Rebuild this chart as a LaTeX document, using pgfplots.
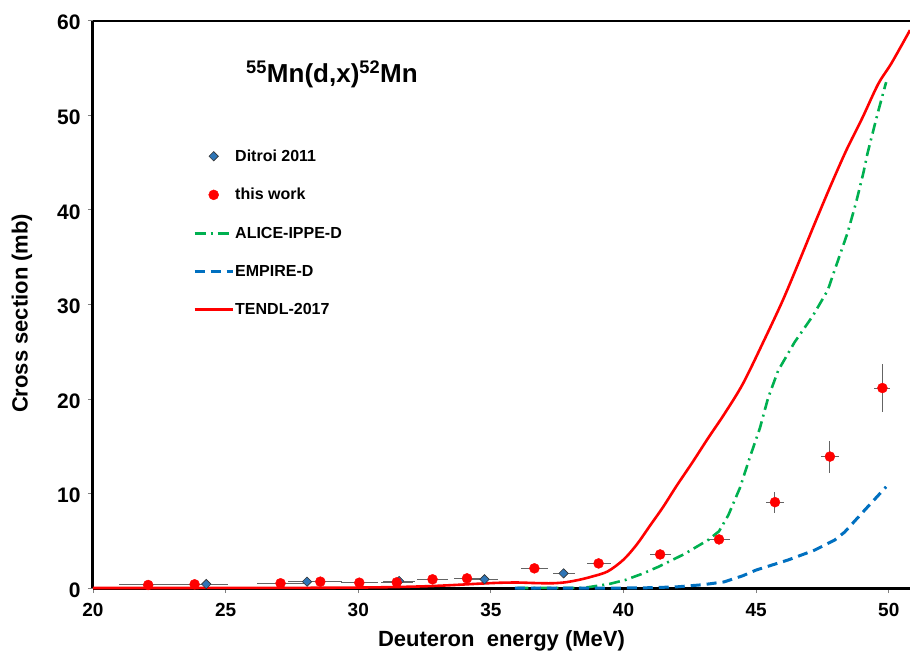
\documentclass[border=0pt]{standalone}
\usepackage{fontspec}
\setmainfont{Liberation Sans}
\usepackage{pgfplots}
\pgfplotsset{compat=1.18}
\definecolor{tendlred}{RGB}{255,0,0}
\definecolor{alicegreen}{RGB}{0,176,80}
\definecolor{empireblue}{RGB}{0,112,192}
\definecolor{diamondblue}{RGB}{46,117,182}
\definecolor{errgray}{RGB}{100,100,100}
\pgfplotsset{
    lineleg/.style={legend image code/.code={\draw[##1] (0pt,0pt) -- (38pt,0pt);}},
    markleg/.style={legend image code/.code={\draw[mark repeat=2,mark phase=2,##1] plot coordinates {(0pt,0pt) (19pt,0pt) (38pt,0pt)};}},
}

\begin{document}
\begin{tikzpicture}
\begin{axis}[
    name=ax,
    scale only axis,
    width=817pt, height=567.3pt,
    xmin=20, xmax=50.8, ymin=0, ymax=60,
    xtick={20,25,...,50}, ytick={0,10,...,60},
    axis lines*=left,
    axis line style={-, line width=3pt, black},
    tick align=outside,
    major tick length=5pt,
    tick style={line width=0.8pt, gray},
    clip=false,
    /pgf/number format/assume math mode=true,
    xticklabel style={font=\fontsize{19}{21}\selectfont\bfseries, yshift=-7pt},
    yticklabel style={font=\fontsize{21}{23}\selectfont\bfseries, xshift=-4pt, yshift=-2pt},
    xlabel={Deuteron\ \ energy (MeV)},
    ylabel={Cross section (mb)},
    every axis x label/.style={at={([yshift=-53pt]axis description cs:0.5,0)}, anchor=center},
    every axis y label/.style={at={([xshift=-71pt,yshift=-9pt]axis description cs:0,0.5)}, rotate=90, anchor=center},
    label style={font=\fontsize{22}{24}\selectfont\bfseries},
    legend style={at={(0.1224,0.7747)}, anchor=north west, draw=none, fill=none,
        font=\fontsize{16}{18}\selectfont\bfseries, row sep=23.5pt, inner sep=0pt,
        nodes={inner sep=1pt, anchor=west}},
    legend cell align=left,
]
% Ditroi 2011
\addplot[only marks, mark=square*, mark size=3.3pt, markleg,
    mark options={rotate=45, fill=diamondblue, draw=black!80, line width=0.6pt},
    error bars/.cd, x dir=both, x explicit,
    error bar style={errgray, line width=1pt}, error mark=|,
    error mark options={errgray, line width=1pt, mark size=3pt, rotate=90}]
    table[x=x, y=y, x error=ex] {
x y ex
24.27 0.42 0.7
28.07 0.67 0.6
31.54 0.74 0.5
34.76 0.92 0.4
37.74 1.55 0.3
};
\addlegendentry{Ditroi 2011}
% this work
\addplot[only marks, mark=*, mark size=5pt, color=tendlred, markleg,
    error bars/.cd, x dir=both, x explicit, y dir=both, y explicit,
    error bar style={errgray, line width=1pt}, error mark=none]
    table[x=x, y=y, x error=ex, y error=ey] {
x y ex ey
22.08 0.32 1.1 0.05
23.83 0.39 0.8 0.05
27.07 0.50 0.9 0.05
28.57 0.67 0.8 0.05
30.04 0.56 0.7 0.05
31.45 0.60 0.6 0.05
32.80 0.92 0.6 0.08
34.10 1.02 0.5 0.08
36.64 2.08 0.5 0.15
39.06 2.60 0.45 0.2
41.38 3.55 0.4 0.25
43.60 5.14 0.4 0.35
45.71 9.08 0.35 1.1
47.78 13.90 0.35 1.7
49.76 21.15 0.3 2.5
};
\addlegendentry{this work}
% ALICE-IPPE-D
\addplot[alicegreen, line width=2.6pt, dash pattern=on 11pt off 5pt on 2pt off 5pt, lineleg]
    coordinates {
(36.0,0) (38.5,0.02) (38.8,0.14) (39.5,0.45) (40.06,0.84) (40.7,1.5) (41.32,2.25)
(42.3,3.6) (43.2,5.1) (43.6,6.0) (43.95,7.7) (44.39,10.6) (44.76,13.8) (45.14,16.9)
(45.45,20.1) (45.83,23.0) (46.45,26.0) (47.14,28.8) (47.7,31.5) (48.08,34.6)
(48.45,37.6) (48.77,40.8) (49.05,44.0) (49.2,46.0) (49.59,50.3) (49.9,53.5)
};
\addlegendentry{ALICE-IPPE-D}
% EMPIRE-D
\addplot[empireblue, line width=3pt, dash pattern=on 10pt off 6pt, lineleg]
    coordinates {
(35.9,0) (40,0.0) (41,0.03) (42,0.12) (43,0.35) (43.8,0.65) (44.5,1.3) (45,1.9)
(46.2,2.96) (47.2,4.0) (47.96,5.07) (48.33,5.9) (49.08,8.2) (49.9,10.7)
};
\addlegendentry{EMPIRE-D}
% TENDL-2017
\addplot[tendlred, line width=2.6pt, smooth, lineleg]
    coordinates {
(20,0) (26,0.01) (29,0.03) (31,0.08) (32.5,0.18) (33.5,0.3) (34.5,0.45) (35.3,0.55)
(36,0.58) (36.7,0.52) (37.3,0.5) (37.8,0.6) (38.3,0.85) (38.8,1.2) (39.4,1.75)
(40,3.0) (40.5,4.6) (41,6.6) (41.5,8.6) (42,10.8) (42.6,13.3) (43.2,15.9) (43.8,18.4)
(44.5,21.6) (45.3,26.2) (46,30.4) (46.6,34.4) (47.2,38.5) (47.8,42.5) (48.4,46.3)
(49,49.7) (49.6,53.3) (50.1,55.5) (50.8,59.0)
};
\addlegendentry{TENDL-2017}
\draw[line width=2pt, black] (rel axis cs:0,1) -- (rel axis cs:1,1);
\node[font=\fontsize{26}{28}\selectfont\bfseries] at (rel axis cs:0.2925,0.906)
    {\textsuperscript{55}Mn(d,x)\textsuperscript{52}Mn};
\end{axis}
\pgfresetboundingbox
\path ([xshift=-93pt,yshift=-71pt]ax.south west) rectangle ([yshift=20.7pt]ax.north east);
\end{tikzpicture}
\end{document}
